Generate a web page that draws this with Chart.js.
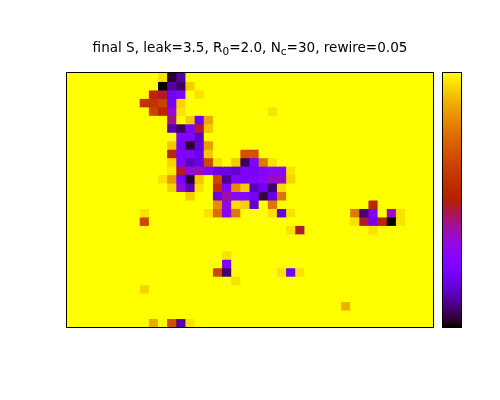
<!DOCTYPE html>
<html lang="en">
  <head>
    <meta charset="utf-8" />
    <title>final S</title>
    <script src="https://cdn.jsdelivr.net/npm/chart.js@4"></script>
    <style>
      body { margin: 0; background: #fff; width: 500px; height: 400px; position: relative; overflow: hidden; }
      #heat { position: absolute; left: 0; top: 0; }
      #bar { position: absolute; left: 442px; top: 72px; }
      #title { position: absolute; left: 0; width: 500px; top: 39px; text-align: center; font: 13.55px "DejaVu Sans", sans-serif; color: #000; white-space: nowrap; line-height: 16px; }
      #title sub { font-size: 10.5px; line-height: 0; vertical-align: -3px; }
    </style>
  </head>
  <body>
    <canvas id="heat" width="500" height="400"></canvas>
    <canvas id="bar" width="20" height="256"></canvas>
    <div id="title">final S, leak=3.5, R<sub>0</sub>=2.0, N<sub>c</sub>=30, rewire=0.05</div>
    <script>
      // final S per cell, row 0 at the top, 40 columns by 30 rows
      const finalS = [
        [1,1,1,1,1,1,1,1,1,1, .96,.03,.11,1,1,1,1,1,1,1, 1,1,1,1,1,1,1,1,1,1, 1,1,1,1,1,1,1,1,1,1],
        [1,1,1,1,1,1,1,1,1,1, 0,.11,.06,.93,1,1,1,1,1,1, 1,1,1,1,1,1,1,1,1,1, 1,1,1,1,1,1,1,1,1,1],
        [1,1,1,1,1,1,1,1,1,.53, .47,.2,.25,1,.96,1,1,1,1,1, 1,1,1,1,1,1,1,1,1,1, 1,1,1,1,1,1,1,1,1,1],
        [1,1,1,1,1,1,1,1,.58,.58, .63,.22,.94,1,1,1,1,1,1,1, 1,1,1,1,1,1,1,1,1,1, 1,1,1,1,1,1,1,1,1,1],
        [1,1,1,1,1,1,1,1,1,.64, .54,.34,.96,1,1,1,1,1,1,1, 1,1,.96,1,1,1,1,1,1,1, 1,1,1,1,1,1,1,1,1,1],
        [1,1,1,1,1,1,1,1,1,1, 1,.41,1,.93,.2,.87,1,1,1,1, 1,1,1,1,1,1,1,1,1,1, 1,1,1,1,1,1,1,1,1,1],
        [1,1,1,1,1,1,1,1,1,1, 1,.13,.06,.22,.47,.92,1,1,1,1, 1,1,1,1,1,1,1,1,1,1, 1,1,1,1,1,1,1,1,1,1],
        [1,1,1,1,1,1,1,1,1,1, 1,1,.26,.25,.14,1,1,1,1,1, 1,1,1,1,1,1,1,1,1,1, 1,1,1,1,1,1,1,1,1,1],
        [1,1,1,1,1,1,1,1,1,1, 1,.92,.23,.03,.17,.85,1,1,1,1, 1,1,1,1,1,1,1,1,1,1, 1,1,1,1,1,1,1,1,1,1],
        [1,1,1,1,1,1,1,1,1,1, 1,.53,.25,.25,.18,.92,1,1,1,.68, .68,1,1,1,1,1,1,1,1,1, 1,1,1,1,1,1,1,1,1,1],
        [1,1,1,1,1,1,1,1,1,1, 1,.94,.25,.14,.18,.66,.96,1,.92,.06, .25,.78,.96,1,1,1,1,1,1,1, 1,1,1,1,1,1,1,1,1,1],
        [1,1,1,1,1,1,1,1,1,1, 1,.97,.47,.34,.38,.26,.18,.18,.15,.24, .22,.26,.29,.29,.96,1,1,1,1,1, 1,1,1,1,1,1,1,1,1,1],
        [1,1,1,1,1,1,1,1,1,1, .96,.84,.23,.03,.92,1,.65,.09,.26,.23, .26,.29,.36,.36,.94,1,1,1,1,1, 1,1,1,1,1,1,1,1,1,1],
        [1,1,1,1,1,1,1,1,1,1, 1,.94,.33,.13,.96,1,.57,.26,.82,.93, .14,.2,.07,.95,1,1,1,1,1,1, 1,1,1,1,1,1,1,1,1,1],
        [1,1,1,1,1,1,1,1,1,1, 1,1,1,.93,1,1,.18,.39,.28,.27, .22,.05,.17,.77,1,1,1,1,1,1, 1,1,1,1,1,1,1,1,1,1],
        [1,1,1,1,1,1,1,1,1,1, 1,1,1,1,1,1,.82,.33,.95,.93, .15,1,.77,1,1,1,1,1,1,1, 1,1,1,.53,1,1,1,1,1,1],
        [1,1,1,1,1,1,1,1,.96,1, 1,1,1,1,1,.96,.75,.27,.78,1, 1,1,.96,.16,.96,1,1,1,1,1, 1,.78,.08,.26,1,.36,.96,1,1,1],
        [1,1,1,1,1,1,1,1,.65,1, 1,1,1,1,1,1,1,1,1,1, 1,1,1,1,1,1,1,1,1,1, 1,.96,.47,.21,.53,0,.96,1,1,1],
        [1,1,1,1,1,1,1,1,1,1, 1,1,1,1,1,1,1,1,1,1, 1,1,1,1,.96,.47,1,1,1,1, 1,1,1,.96,1,1,1,1,1,1],
        [1,1,1,1,1,1,1,1,1,1, 1,1,1,1,1,1,1,1,1,1, 1,1,1,1,1,1,1,1,1,1, 1,1,1,1,1,1,1,1,1,1],
        [1,1,1,1,1,1,1,1,1,1, 1,1,1,1,1,1,1,1,1,1, 1,1,1,1,1,1,1,1,1,1, 1,1,1,1,1,1,1,1,1,1],
        [1,1,1,1,1,1,1,1,1,1, 1,1,1,1,1,1,1,.96,1,1, 1,1,1,1,1,1,1,1,1,1, 1,1,1,1,1,1,1,1,1,1],
        [1,1,1,1,1,1,1,1,1,1, 1,1,1,1,1,1,1,.26,1,1, 1,1,1,1,1,1,1,1,1,1, 1,1,1,1,1,1,1,1,1,1],
        [1,1,1,1,1,1,1,1,1,1, 1,1,1,1,1,1,.65,.07,1,1, 1,1,1,.96,.2,.96,1,1,1,1, 1,1,1,1,1,1,1,1,1,1],
        [1,1,1,1,1,1,1,1,1,1, 1,1,1,1,1,1,1,1,.96,1, 1,1,1,1,1,1,1,1,1,1, 1,1,1,1,1,1,1,1,1,1],
        [1,1,1,1,1,1,1,1,.94,1, 1,1,1,1,1,1,1,1,1,1, 1,1,1,1,1,1,1,1,1,1, 1,1,1,1,1,1,1,1,1,1],
        [1,1,1,1,1,1,1,1,1,1, 1,1,1,1,1,1,1,1,1,1, 1,1,1,1,1,1,1,1,1,1, 1,1,1,1,1,1,1,1,1,1],
        [1,1,1,1,1,1,1,1,1,1, 1,1,1,1,1,1,1,1,1,1, 1,1,1,1,1,1,1,1,1,1, .88,1,1,1,1,1,1,1,1,1],
        [1,1,1,1,1,1,1,1,1,1, 1,1,1,1,1,1,1,1,1,1, 1,1,1,1,1,1,1,1,1,1, 1,1,1,1,1,1,1,1,1,1],
        [1,1,1,1,1,1,1,1,1,.87, 1,.67,.11,.96,1,1,1,1,1,1, 1,1,1,1,1,1,1,1,1,1, 1,1,1,1,1,1,1,1,1,1],
      ];
      const columns = finalS[0].map((_, i) => i);

      // gnuplot's default palette (rgbformulae 7,5,15)
      function palette(v) {
        const r = Math.sqrt(v);
        const g = v * v * v;
        const b = Math.max(0, Math.sin(2 * Math.PI * v));
        return `rgb(${Math.round(r * 255)},${Math.round(g * 255)},${Math.round(b * 255)})`;
      }

      // thin black box round the plot area
      const frame = {
        id: "frame",
        afterDraw(chart) {
          const { ctx, chartArea: a } = chart;
          ctx.save();
          ctx.strokeStyle = "#000";
          ctx.lineWidth = 1;
          ctx.strokeRect(a.left - 0.5, a.top - 0.5, a.right - a.left + 1, a.bottom - a.top + 1);
          ctx.restore();
        },
      };

      // every row is one stacked dataset, each bar segment is one cell
      new Chart(document.getElementById("heat"), {
        type: "bar",
        plugins: [frame],
        data: {
          labels: columns,
          datasets: finalS.map((row) => ({
            data: row.map(() => 1),
            backgroundColor: row.map(palette),
            barPercentage: 1,
            categoryPercentage: 1,
            borderWidth: 0,
            inflateAmount: 0.5,
          })),
        },
        options: {
          responsive: false,
          animation: false,
          layout: { padding: { left: 67, right: 67, top: 73, bottom: 73 } },
          plugins: { legend: { display: false }, tooltip: { enabled: false } },
          scales: {
            x: { display: false, stacked: true },
            y: { display: false, stacked: true, reverse: true, min: 0, max: finalS.length },
          },
        },
      });

      // colour bar: one bar with the palette as a gradient
      new Chart(document.getElementById("bar"), {
        type: "bar",
        plugins: [frame],
        data: {
          labels: ["final S"],
          datasets: [
            {
              data: [1],
              barPercentage: 1,
              categoryPercentage: 1,
              borderWidth: 0,
              backgroundColor(c) {
                const a = c.chart.chartArea;
                if (!a) return "#000";
                const grad = c.chart.ctx.createLinearGradient(0, a.bottom, 0, a.top);
                for (let i = 0; i <= 128; i++) grad.addColorStop(i / 128, palette(i / 128));
                return grad;
              },
            },
          ],
        },
        options: {
          responsive: false,
          animation: false,
          layout: { padding: 1 },
          plugins: { legend: { display: false }, tooltip: { enabled: false } },
          scales: {
            x: { display: false },
            y: { display: false, min: 0, max: 1 },
          },
        },
      });
    </script>
  </body>
</html>
